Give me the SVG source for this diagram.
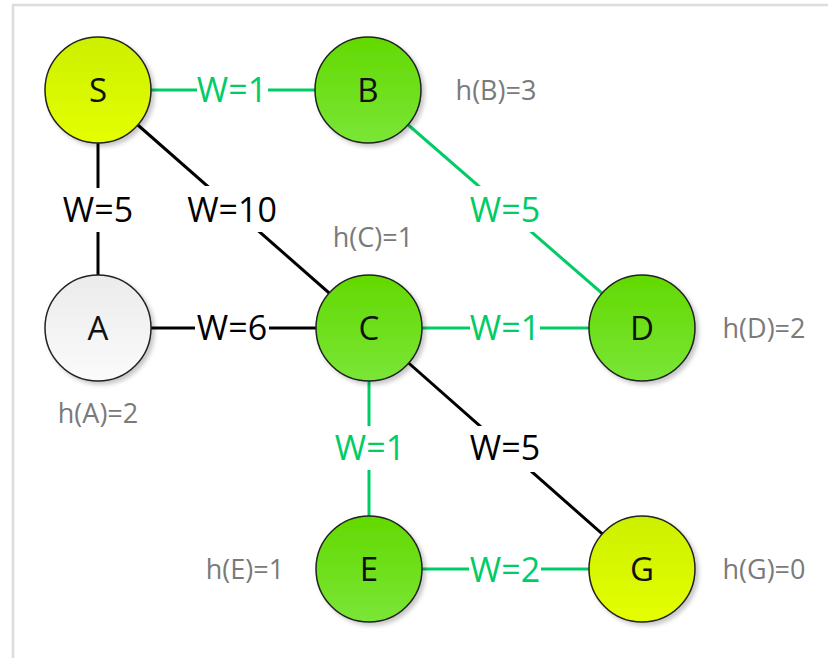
<svg xmlns="http://www.w3.org/2000/svg" width="828" height="658" viewBox="0 0 828 658">
  <defs>
    <linearGradient id="gYellow" x1="0" y1="0" x2="0" y2="1">
      <stop offset="0" stop-color="#CCF000"/>
      <stop offset="1" stop-color="#E4FF00"/>
    </linearGradient>
    <linearGradient id="gGreen" x1="0" y1="0" x2="0" y2="1">
      <stop offset="0" stop-color="#62D900"/>
      <stop offset="1" stop-color="#7AE637"/>
    </linearGradient>
    <linearGradient id="gWhite" x1="0" y1="0" x2="0" y2="1">
      <stop offset="0" stop-color="#EBEBEB"/>
      <stop offset="1" stop-color="#FBFBFB"/>
    </linearGradient>
    <filter id="shadow" x="-20%" y="-20%" width="150%" height="150%">
      <feDropShadow dx="3" dy="3" stdDeviation="2" flood-color="#000" flood-opacity="0.22"/>
    </filter>
  </defs>
  <style>
    .node circle { stroke: #222; stroke-width: 1.5; filter: url(#shadow); }
    .nl { font-family: "Open Sans", "Liberation Sans", sans-serif; font-size: 33px; fill: #111; text-anchor: middle; }
    .hl { font-family: "Open Sans", "Liberation Sans", sans-serif; font-size: 27px; fill: #7a7a7a; text-anchor: middle; }
    .e { stroke-width: 3; fill: none; }
    .k { stroke: #000; }
    .g { stroke: #00CC66; }
    .wl { font-family: "Open Sans", "Liberation Sans", sans-serif; font-size: 34px; text-anchor: middle; }
    .wk { fill: #000; }
    .wg { fill: #00CC66; }
    .bg { fill: #fff; }
  </style>
  <rect x="0" y="0" width="828" height="658" fill="#fff"/>
  <path d="M13 658 V5 H828" fill="none" stroke="#dcdcdc" stroke-width="2.5"/>
  <g id="connectors">
    <line class="e g" x1="98" y1="90" x2="368" y2="90"/>
    <line class="e k" x1="98" y1="90" x2="98" y2="328"/>
    <line class="e k" x1="98" y1="90" x2="369" y2="328"/>
    <line class="e g" x1="368" y1="90" x2="642" y2="328"/>
    <line class="e k" x1="98" y1="328" x2="369" y2="328"/>
    <line class="e g" x1="369" y1="328" x2="642" y2="328"/>
    <line class="e g" x1="369" y1="328" x2="369" y2="569"/>
    <line class="e k" x1="369" y1="328" x2="642" y2="569"/>
    <line class="e g" x1="369" y1="569" x2="642" y2="569"/>
    <rect class="bg" x="197" y="72" width="71" height="36"/>
    <rect class="bg" x="58" y="188" width="80" height="44"/>
    <rect class="bg" x="182" y="186" width="100" height="46"/>
    <rect class="bg" x="465" y="186" width="80" height="46"/>
    <rect class="bg" x="195" y="310" width="74" height="36"/>
    <rect class="bg" x="470" y="310" width="70" height="36"/>
    <rect class="bg" x="330" y="426" width="80" height="44"/>
    <rect class="bg" x="465" y="426" width="80" height="46"/>
    <rect class="bg" x="469" y="552" width="72" height="36"/>
    <text class="wl wg" x="232" y="102">W=1</text>
    <text class="wl wk" x="98" y="222">W=5</text>
    <text class="wl wk" x="232" y="222">W=10</text>
    <text class="wl wg" x="505" y="222">W=5</text>
    <text class="wl wk" x="232" y="340">W=6</text>
    <text class="wl wg" x="505" y="340">W=1</text>
    <text class="wl wg" x="370" y="460">W=1</text>
    <text class="wl wk" x="505" y="460">W=5</text>
    <text class="wl wg" x="505" y="582">W=2</text>
  </g>
  <g id="node-S" class="node">
    <circle cx="98" cy="90" r="53" fill="url(#gYellow)"/>
    <text class="nl" x="98" y="102">S</text>
  </g>
  <g id="node-B" class="node">
    <circle cx="368" cy="90" r="53" fill="url(#gGreen)"/>
    <text class="nl" x="368" y="102">B</text>
    <text class="hl" x="496" y="100">h(B)=3</text>
  </g>
  <g id="node-A" class="node">
    <circle cx="98" cy="328" r="53" fill="url(#gWhite)"/>
    <text class="nl" x="98" y="340">A</text>
    <text class="hl" x="98" y="423">h(A)=2</text>
  </g>
  <g id="node-C" class="node">
    <circle cx="369" cy="328" r="53" fill="url(#gGreen)"/>
    <text class="nl" x="369" y="340">C</text>
    <text class="hl" x="373" y="247">h(C)=1</text>
  </g>
  <g id="node-D" class="node">
    <circle cx="642" cy="328" r="53" fill="url(#gGreen)"/>
    <text class="nl" x="642" y="340">D</text>
    <text class="hl" x="764" y="338">h(D)=2</text>
  </g>
  <g id="node-E" class="node">
    <circle cx="369" cy="569" r="53" fill="url(#gGreen)"/>
    <text class="nl" x="369" y="581">E</text>
    <text class="hl" x="245" y="579">h(E)=1</text>
  </g>
  <g id="node-G" class="node">
    <circle cx="642" cy="569" r="53" fill="url(#gYellow)"/>
    <text class="nl" x="642" y="581">G</text>
    <text class="hl" x="764" y="579">h(G)=0</text>
  </g>
</svg>
